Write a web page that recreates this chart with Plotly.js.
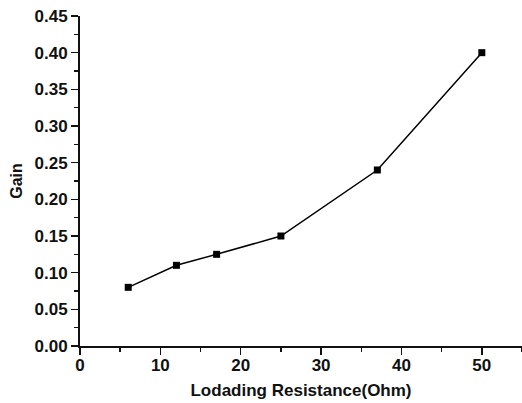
<!DOCTYPE html>
<html>
<head>
<meta charset="utf-8">
<script src="https://cdn.plot.ly/plotly-3.0.1.min.js"></script>
<style>
  html, body { margin: 0; padding: 0; background: #fff; }
  #chart { width: 522px; height: 403px; }
</style>
</head>
<body>
<div id="chart"></div>
<script>
// Loading resistance (Ohm) and measured gain
const resistance = [6, 12, 17, 25, 37, 50];
const gain = [0.08, 0.11, 0.125, 0.15, 0.24, 0.40];

const xTitle = 'Lodading Resistance(Ohm)';
const yTitle = 'Gain';

const fontFamily = '"Liberation Sans", Arial, Helvetica, sans-serif';
const ink = '#111';

const trace = {
  x: resistance,
  y: gain,
  type: 'scatter',
  mode: 'lines+markers',
  line: { color: '#000', width: 1.5 },
  marker: { symbol: 'square', size: 7, color: '#000' },
  showlegend: false
};

const layout = {
  width: 522,
  height: 403,
  margin: { l: 80, r: 0, t: 16, b: 57 },
  paper_bgcolor: '#fff',
  plot_bgcolor: '#fff',
  font: { family: fontFamily, color: ink, size: 17 },
  xaxis: {
    range: [0, 55],
    tickvals: [0, 10, 20, 30, 40, 50],
    ticks: 'outside',
    ticklen: 7,
    tickwidth: 1.5,
    tickcolor: ink,
    ticklabelstandoff: -4,
    minor: { dtick: 5, tick0: 0, ticks: 'outside', ticklen: 4, tickwidth: 1.5, tickcolor: ink },
    showline: true,
    linecolor: ink,
    linewidth: 2,
    showgrid: false,
    zeroline: false,
    tickfont: { family: fontFamily, size: 17, color: ink, weight: 'bold' },
    title: { text: xTitle, font: { family: fontFamily, size: 17, color: ink, weight: 'bold' }, standoff: 10 }
  },
  yaxis: {
    range: [0, 0.45],
    tickvals: [0, 0.05, 0.10, 0.15, 0.20, 0.25, 0.30, 0.35, 0.40, 0.45],
    tickformat: '.2f',
    ticks: 'outside',
    ticklen: 7,
    tickwidth: 1.5,
    tickcolor: ink,
    ticklabelstandoff: 0,
    minor: { dtick: 0.025, tick0: 0, ticks: 'outside', ticklen: 4, tickwidth: 1.5, tickcolor: ink },
    showline: true,
    linecolor: ink,
    linewidth: 2,
    showgrid: false,
    zeroline: false,
    tickfont: { family: fontFamily, size: 17, color: ink, weight: 'bold' },
    title: { text: yTitle, font: { family: fontFamily, size: 16, color: ink, weight: 'bold' }, standoff: 8 }
  }
};

Plotly.newPlot('chart', [trace], layout, { displayModeBar: false, staticPlot: true });
</script>
</body>
</html>
